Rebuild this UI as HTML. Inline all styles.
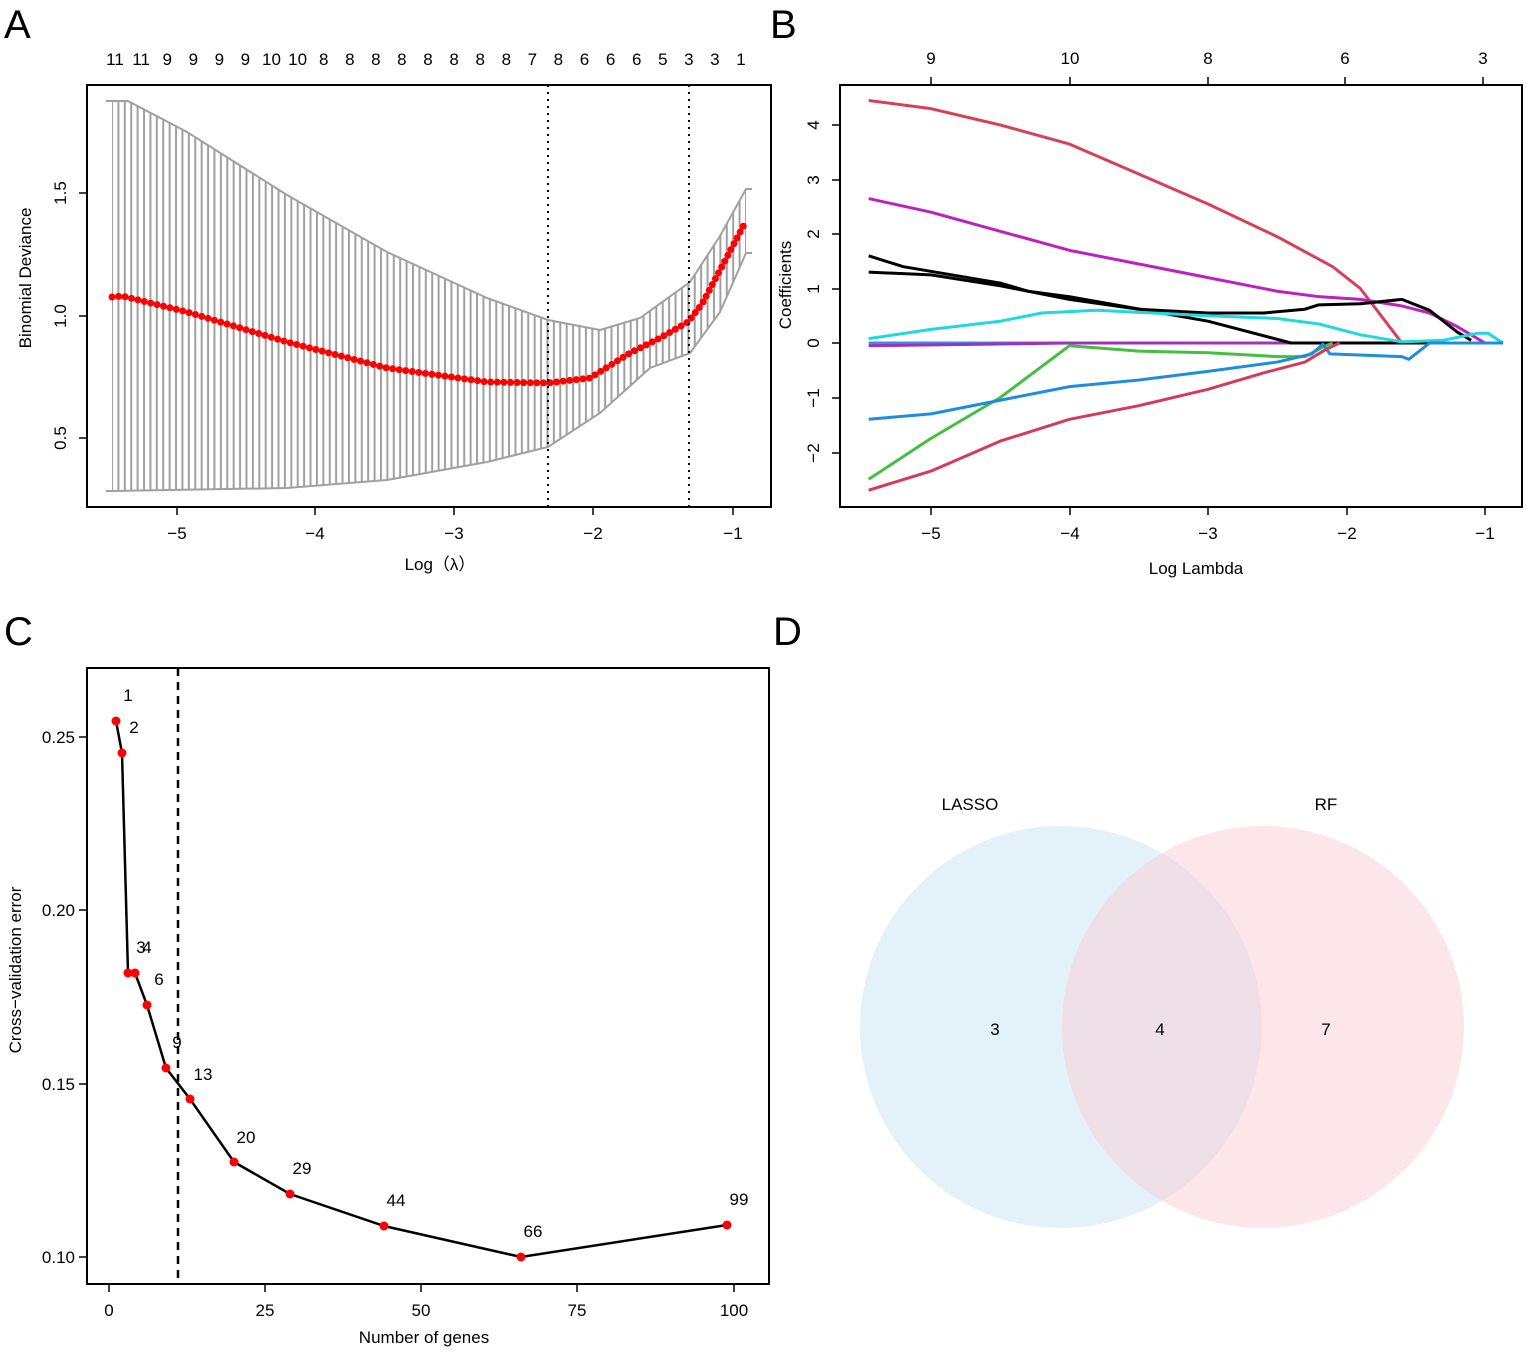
<!DOCTYPE html>
<html><head><meta charset="utf-8"><style>
html,body{margin:0;padding:0;background:#fff}
svg{display:block;font-family:"Liberation Sans",Arial,sans-serif}
</style></head><body>
<svg width="1535" height="1353" viewBox="0 0 1535 1353" xmlns="http://www.w3.org/2000/svg">
<defs>
<pattern id="vb" patternUnits="userSpaceOnUse" x="111" y="0" width="6.404" height="10"><rect x="0" y="0" width="2" height="10" fill="#a0a0a0"/></pattern>
</defs>
<rect width="1535" height="1353" fill="#fff"/>
<g font-size="40" fill="#000">
<text x="4" y="38">A</text><text x="770" y="38">B</text>
<text x="4" y="645">C</text><text x="773" y="645">D</text>
</g>
<!-- Panel A -->
<polygon fill="url(#vb)" points="112,101 128,101 187,132 287,195 387,252 487,298 548,320 600,330 640,318 690,282 720,236 746,189 746,253 720,312 690,353 650,368 600,413 548,447 487,462 387,480 287,488 112,491"/>
<polyline fill="none" stroke="#a0a0a0" stroke-width="2" points="106,101 128,101 187,132 287,195 387,252 487,298 548,320 600,330 640,318 690,282 720,236 746,189 752,189"/>
<polyline fill="none" stroke="#a0a0a0" stroke-width="2" points="106,491 112,491 287,488 387,480 487,462 548,447 600,413 650,368 690,353 720,312 746,253 752,253"/>
<polyline fill="none" stroke="#f00" stroke-width="7" stroke-linecap="round" stroke-dasharray="0 6.6" points="112,297 122,296 187,312 287,342 387,368 487,382 548,383 590,378 630,353 660,338 688,322 702,304 727,257 746,221"/>
<rect x="87" y="85" width="684" height="422" fill="none" stroke="#000" stroke-width="2"/>
<line x1="548" y1="85" x2="548" y2="507" stroke="#000" stroke-width="2" stroke-dasharray="2,5"/>
<line x1="689" y1="85" x2="689" y2="507" stroke="#000" stroke-width="2" stroke-dasharray="2,5"/>
<g stroke="#000" stroke-width="1.5">
<line x1="177" y1="507" x2="733" y2="507"/>
<line x1="177" y1="507" x2="177" y2="515"/><line x1="315" y1="507" x2="315" y2="515"/><line x1="454" y1="507" x2="454" y2="515"/><line x1="593" y1="507" x2="593" y2="515"/><line x1="733" y1="507" x2="733" y2="515"/>
<line x1="87" y1="193" x2="87" y2="438"/>
<line x1="79" y1="193" x2="87" y2="193"/><line x1="79" y1="316" x2="87" y2="316"/><line x1="79" y1="438" x2="87" y2="438"/>
</g>
<g font-size="17" text-anchor="middle">
<text x="177" y="539">−5</text><text x="315" y="539">−4</text><text x="454" y="539">−3</text><text x="593" y="539">−2</text><text x="733" y="539">−1</text>
<text transform="translate(66,193) rotate(-90)">1.5</text>
<text transform="translate(66,316) rotate(-90)">1.0</text>
<text transform="translate(66,438) rotate(-90)">0.5</text>
<text transform="translate(31,278) rotate(-90)">Binomial Deviance</text>
<text x="440" y="570">Log（λ）</text>
</g>
<g font-size="17" text-anchor="middle">
<text x="115" y="65">11</text><text x="141.1" y="65">11</text><text x="167.2" y="65">9</text><text x="193.3" y="65">9</text><text x="219.3" y="65">9</text><text x="245.4" y="65">9</text><text x="271.5" y="65">10</text><text x="297.6" y="65">10</text><text x="323.7" y="65">8</text><text x="349.8" y="65">8</text><text x="375.8" y="65">8</text><text x="401.9" y="65">8</text><text x="428" y="65">8</text><text x="454.1" y="65">8</text><text x="480.2" y="65">8</text><text x="506.3" y="65">8</text><text x="532.3" y="65">7</text><text x="558.4" y="65">8</text><text x="584.5" y="65">6</text><text x="610.6" y="65">6</text><text x="636.7" y="65">6</text><text x="662.8" y="65">5</text><text x="688.8" y="65">3</text><text x="714.9" y="65">3</text><text x="741" y="65">1</text>
</g>
<!-- Panel B -->
<g transform="matrix(138.5,0,0,-54.5,1623.5,343)" fill="none" stroke-linejoin="round">
<polyline vector-effect="non-scaling-stroke" stroke-width="3" stroke="#3a8fde" points="-5.45,0 -0.87,0"/>
<polyline vector-effect="non-scaling-stroke" stroke-width="3" stroke="#a030c0" points="-5.45,-0.05 -4,0 -2.2,0 -0.87,0"/>
<polyline vector-effect="non-scaling-stroke" stroke-width="3" stroke="#d6415a" points="-5.45,4.45 -5,4.3 -4.5,4.0 -4,3.65 -3.5,3.1 -3,2.55 -2.5,1.95 -2.1,1.4 -1.9,1.0 -1.6,0"/>
<polyline vector-effect="non-scaling-stroke" stroke-width="3" stroke="#c020c0" points="-5.45,2.65 -5,2.4 -4.5,2.05 -4,1.7 -3.5,1.45 -3,1.2 -2.5,0.95 -2.2,0.85 -1.9,0.8 -1.6,0.68 -1.4,0.55 -1.2,0.3 -1.0,0"/>
<polyline vector-effect="non-scaling-stroke" stroke-width="3" stroke="#000" points="-5.45,1.6 -5.2,1.4 -4.5,1.1 -4.3,0.95 -4,0.85 -3,0.4 -2.4,0 -0.87,0"/>
<polyline vector-effect="non-scaling-stroke" stroke-width="3" stroke="#000" points="-5.45,1.3 -5,1.25 -4.5,1.05 -4,0.8 -3.5,0.62 -3,0.55 -2.6,0.55 -2.3,0.62 -2.2,0.7 -1.9,0.72 -1.6,0.8 -1.4,0.6 -1.2,0.2 -1.1,0.05"/>
<polyline vector-effect="non-scaling-stroke" stroke-width="3" stroke="#20d8e0" points="-5.45,0.08 -5,0.25 -4.5,0.4 -4.2,0.55 -3.8,0.6 -3,0.5 -2.5,0.45 -2.2,0.35 -1.9,0.15 -1.6,0.02 -1.3,0.05 -1.05,0.18 -0.98,0.18 -0.87,0"/>
<polyline vector-effect="non-scaling-stroke" stroke-width="3" stroke="#44c040" points="-5.45,-2.5 -5,-1.75 -4.5,-1.0 -4,-0.05 -3.5,-0.15 -3,-0.18 -2.5,-0.25 -2.3,-0.25 -2.15,-0.05 -2.1,0"/>
<polyline vector-effect="non-scaling-stroke" stroke-width="3" stroke="#1e8ce0" points="-5.45,-1.4 -5,-1.3 -4.5,-1.05 -4,-0.8 -3.5,-0.68 -3,-0.52 -2.5,-0.35 -2.25,-0.2 -2.17,-0.02 -2.12,-0.2 -1.6,-0.25 -1.55,-0.3 -1.4,0 -0.87,0"/>
<polyline vector-effect="non-scaling-stroke" stroke-width="3" stroke="#d63a5a" points="-5.45,-2.7 -5,-2.35 -4.5,-1.8 -4,-1.4 -3.5,-1.15 -3,-0.85 -2.6,-0.55 -2.3,-0.35 -2.15,-0.12 -2.05,0"/>
</g>
<rect x="840" y="85" width="682" height="422" fill="none" stroke="#000" stroke-width="2"/>
<g stroke="#000" stroke-width="1.5">
<line x1="931" y1="507" x2="1485" y2="507"/>
<line x1="931" y1="507" x2="931" y2="515"/><line x1="1070" y1="507" x2="1070" y2="515"/><line x1="1208" y1="507" x2="1208" y2="515"/><line x1="1347" y1="507" x2="1347" y2="515"/><line x1="1485" y1="507" x2="1485" y2="515"/>
<line x1="931" y1="85" x2="1483" y2="85"/>
<line x1="931" y1="85" x2="931" y2="77"/><line x1="1070" y1="85" x2="1070" y2="77"/><line x1="1208" y1="85" x2="1208" y2="77"/><line x1="1345" y1="85" x2="1345" y2="77"/><line x1="1483" y1="85" x2="1483" y2="77"/>
<line x1="840" y1="125" x2="840" y2="453"/>
<line x1="832" y1="125" x2="840" y2="125"/><line x1="832" y1="180" x2="840" y2="180"/><line x1="832" y1="234" x2="840" y2="234"/><line x1="832" y1="289" x2="840" y2="289"/><line x1="832" y1="343" x2="840" y2="343"/><line x1="832" y1="398" x2="840" y2="398"/><line x1="832" y1="453" x2="840" y2="453"/>
</g>
<g font-size="17" text-anchor="middle">
<text x="931" y="539">−5</text><text x="1070" y="539">−4</text><text x="1208" y="539">−3</text><text x="1347" y="539">−2</text><text x="1485" y="539">−1</text>
<text x="931" y="64">9</text><text x="1070" y="64">10</text><text x="1208" y="64">8</text><text x="1345" y="64">6</text><text x="1483" y="64">3</text>
<text transform="translate(819,125) rotate(-90)">4</text>
<text transform="translate(819,180) rotate(-90)">3</text>
<text transform="translate(819,234) rotate(-90)">2</text>
<text transform="translate(819,289) rotate(-90)">1</text>
<text transform="translate(819,343) rotate(-90)">0</text>
<text transform="translate(819,398) rotate(-90)">−1</text>
<text transform="translate(819,453) rotate(-90)">−2</text>
<text transform="translate(791,285) rotate(-90)">Coefficients</text>
<text x="1196" y="574">Log Lambda</text>
</g>
<!-- Panel C -->
<rect x="87" y="668" width="682" height="616" fill="none" stroke="#000" stroke-width="2"/>
<line x1="178" y1="668" x2="178" y2="1284" stroke="#000" stroke-width="2.5" stroke-dasharray="8,6"/>
<g stroke="#000" stroke-width="1.5">
<line x1="109" y1="1284" x2="734" y2="1284"/>
<line x1="109" y1="1284" x2="109" y2="1292"/><line x1="265" y1="1284" x2="265" y2="1292"/><line x1="421" y1="1284" x2="421" y2="1292"/><line x1="577" y1="1284" x2="577" y2="1292"/><line x1="734" y1="1284" x2="734" y2="1292"/>
<line x1="87" y1="737" x2="87" y2="1257"/>
<line x1="79" y1="737" x2="87" y2="737"/><line x1="79" y1="910" x2="87" y2="910"/><line x1="79" y1="1084" x2="87" y2="1084"/><line x1="79" y1="1257" x2="87" y2="1257"/>
</g>
<g font-size="17" text-anchor="middle">
<text x="109" y="1316">0</text><text x="265" y="1316">25</text><text x="421" y="1316">50</text><text x="577" y="1316">75</text><text x="734" y="1316">100</text>
</g>
<g font-size="17" text-anchor="end">
<text x="75" y="743">0.25</text><text x="75" y="916">0.20</text><text x="75" y="1090">0.15</text><text x="75" y="1263">0.10</text>
</g>
<text transform="translate(21,970) rotate(-90)" font-size="17" text-anchor="middle">Cross−validation error</text>
<text x="424" y="1343" font-size="17" text-anchor="middle">Number of genes</text>
<polyline fill="none" stroke="#000" stroke-width="2.5" points="116,721 122,753 128,973 135,973 147,1005 166,1068 190,1099 234,1162 290,1194 384,1226 521,1257 727,1225"/>
<g fill="#f00">
<circle cx="116" cy="721" r="4.5"/><circle cx="122" cy="753" r="4.5"/><circle cx="128" cy="973" r="4.5"/><circle cx="135" cy="973" r="4.5"/><circle cx="147" cy="1005" r="4.5"/><circle cx="166" cy="1068" r="4.5"/><circle cx="190" cy="1099" r="4.5"/><circle cx="234" cy="1162" r="4.5"/><circle cx="290" cy="1194" r="4.5"/><circle cx="384" cy="1226" r="4.5"/><circle cx="521" cy="1257" r="4.5"/><circle cx="727" cy="1225" r="4.5"/>
</g>
<g font-size="17" text-anchor="middle">
<text x="128" y="701">1</text><text x="134" y="733">2</text><text x="141" y="953">3</text><text x="147" y="953">4</text><text x="159" y="985">6</text><text x="177" y="1048">9</text><text x="203" y="1080">13</text><text x="246" y="1143">20</text><text x="302" y="1174">29</text><text x="396" y="1206">44</text><text x="533" y="1237">66</text><text x="739" y="1205">99</text>
</g>
<!-- Panel D -->
<circle cx="1061" cy="1027" r="201" fill="#c8e3f2" fill-opacity="0.5"/>
<circle cx="1263" cy="1027" r="201" fill="#fbcdd3" fill-opacity="0.5"/>
<g font-size="17" text-anchor="middle">
<text x="970" y="810">LASSO</text><text x="1326" y="810">RF</text>
<text x="995" y="1035">3</text><text x="1160" y="1035">4</text><text x="1326" y="1035">7</text>
</g>
</svg>
</body></html>
